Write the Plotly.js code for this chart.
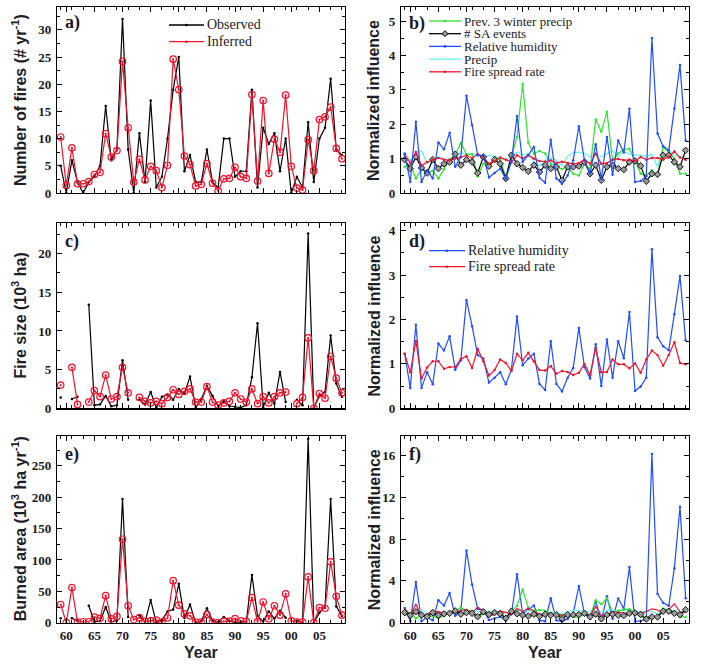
<!DOCTYPE html>
<html><head><meta charset="utf-8">
<script src="https://cdn.plot.ly/plotly-3.0.1.min.js"></script>
<style>body{margin:0;background:#fff}#chart{width:709px;height:666px}</style>
</head><body><div id="chart"></div>
<script>
// Years (two-digit offset from 1900)
const years = [59,60,61,62,63,64,65,66,67,68,69,70,71,72,73,74,75,76,77,78,79,80,81,82,83,84,85,86,87,88,89,90,91,92,93,94,95,96,97,98,99,100,101,102,103,104,105,106,107,108,109];
const xTickVals = [60,65,70,75,80,85,90,95,100,105];
const xTickText = ['60','65','70','75','80','85','90','95','00','05'];

// a) Number of fires
const firesObserved = [5,0,6,2,0,2,3,5,16,6,8,32,8,0,11,2,17,1,3,10,19,25,4,7,2,2,8,2,1,10,10,3,4,4,19,1,12,9,11,4,10,0,3,1,13,2,10,12,21,8,7];
const firesInferred = [10.3,1.4,8.3,1.7,1.7,2.1,3.4,3.8,10.9,6.6,7.8,24.2,12.0,2.0,6.2,2.4,4.9,4.1,1.0,5.1,24.6,19.0,6.8,5.2,1.3,1.6,5.4,1.8,0.4,2.6,2.7,4.7,3.0,2.7,18.1,2.2,17.0,3.6,9.9,7.5,18.0,4.9,0.9,0.55,9.8,4.1,13.5,14.0,15.8,8.2,6.3];

// c) Fire size (10^3 ha)
const sizeObserved = [1.4,null,1.2,1.5,null,13.4,0.4,0.5,1.6,0.25,0.4,6.2,1.1,null,1.1,0.5,2.1,0.1,1.5,1.8,1.1,2.5,1.9,4.1,0.05,1.2,2.9,1.6,0.3,0.9,0.3,0.2,0.1,0.4,4.0,11.0,0.15,2.0,0.6,4.7,0.8,null,1.1,0.4,22.6,0.05,1.6,2.1,9.4,3.2,1.5];
const sizeInferred = [3.0,null,5.3,0.5,null,0.8,2.3,1.5,4.3,1.2,1.5,5.3,2.0,null,1.4,0.9,0.7,0.9,0.6,1.4,2.4,1.8,2.2,2.5,0.8,0.8,2.8,0.8,0.4,0.7,0.9,2.0,1.2,0.8,2.5,0.6,1.5,0.7,1.5,2.0,2.1,null,0.6,1.4,9.1,0.0,1.9,1.3,6.7,3.9,2.0];

// e) Burned area (10^3 ha/yr)
const areaObserved = [7,null,7,3,null,27,1.3,2.5,25,1.5,3,197,9,null,12,1,36,0.1,4.5,18,21,62,7.5,29,0.1,2.4,23,3.2,0.3,9,3,0.6,0.4,1.6,76,11,2,18,6.6,19,8,null,3.3,0.4,293,0.1,16,25,197,26,10.5];
const areaInferred = [29,0,56,1,1.5,1.5,9,7,43,6,10,133,27,5,8,2,3,4,1,7.5,67,28,14,11,1,1,13,1,0.3,2,2.5,6.5,3,2,40,1.5,33,6,27,12,46,3,1,1,73,0,24,23,97,42,12];

// b) Normalized influence on number of fires
const bWinterPrecip = [0.76,0.85,0.42,0.7,0.6,0.65,0.42,0.7,0.97,1.1,1.46,1.13,1.13,0.49,0.85,0.8,1.05,0.95,0.47,1.05,1.63,3.18,1.46,1.15,1.22,1.15,0.85,0.76,0.7,0.76,0.56,0.51,0.85,0.7,2.14,1.78,2.36,0.95,1.15,1.26,1.29,0.95,0.56,0.51,0.66,0.51,1.34,1.19,1.0,0.56,0.56];
const bSAEvents = [0.97,0.71,1.05,0.73,0.58,0.97,0.71,0.85,0.9,1.13,0.81,0.97,0.9,0.58,1.05,0.78,0.97,0.85,0.42,1.1,0.85,0.74,0.63,0.81,0.61,0.81,0.71,0.76,0.37,0.76,0.76,0.78,0.9,0.56,0.81,0.37,0.76,0.81,0.71,0.68,0.9,0.93,0.79,0.34,0.56,0.54,1.1,1.1,0.9,0.76,1.24];
const bHumidity = [1.15,0.32,2.07,0.32,0.66,0.42,1.47,1.27,1.75,0.76,1.05,2.83,1.98,1.1,1.09,0.45,0.58,0.71,0.41,0.92,2.24,0.9,1.1,1.34,0.44,0.3,1.55,0.42,0.27,0.51,0.95,1.94,0.95,0.56,1.42,0.4,1.63,0.53,1.53,1.18,2.45,0.32,0.35,0.49,4.51,1.73,1.36,1.24,2.46,3.72,1.53];
const bPrecip = [1.17,0.95,1.1,1.24,0.85,0.95,1.05,1.0,0.95,1.05,1.19,1.1,1.13,1.1,1.0,1.1,1.05,1.0,0.97,1.05,1.19,1.1,1.15,0.9,0.79,0.95,1.02,0.95,0.8,1.07,1.17,1.19,1.15,1.05,1.15,1.05,1.15,1.24,1.05,1.21,1.13,1.1,1.1,1.05,1.13,0.76,1.34,1.24,1.1,1.05,1.05];
const bSpreadRate = [1.12,0.87,1.19,0.8,0.9,0.97,1.02,0.97,0.95,1.0,1.05,1.09,1.02,1.13,1.05,0.85,0.93,1.03,0.97,0.89,1.1,1.0,1.1,1.0,0.93,0.91,0.95,0.87,0.91,0.87,0.85,0.87,0.97,0.85,1.15,0.85,0.87,0.97,0.99,0.95,0.97,0.93,1.05,0.97,1.02,1.02,0.97,1.05,1.21,1.03,0.97];

// d) Normalized influence on fire size
const dHumidity = [1.23,0.46,1.88,0.46,0.81,0.54,1.46,1.3,1.62,0.87,1.08,2.44,1.85,1.2,1.12,0.58,0.69,0.81,0.54,0.87,2.07,0.97,1.12,1.23,0.55,0.41,1.51,0.55,0.38,0.69,0.91,1.81,0.93,0.67,1.44,0.5,1.55,0.69,1.51,1.13,2.17,0.39,0.49,0.69,3.58,1.6,1.4,1.31,2.12,2.98,1.53];
const dSpreadRate = [1.23,0.81,1.51,0.67,0.92,1.06,1.06,0.89,0.93,0.93,1.11,1.17,0.91,1.34,1.06,0.74,0.86,1.1,1.02,0.84,1.23,1.08,1.25,1.06,0.86,0.85,0.95,0.78,0.84,0.82,0.75,0.8,1.0,0.75,1.36,0.81,0.82,1.1,0.99,0.99,0.9,1.01,0.8,1.1,1.3,1.2,0.96,1.2,1.49,1.02,0.99];

// f) Normalized influence on burned area
const fWinterPrecip = [0.76,0.85,0.42,0.7,0.6,0.65,0.42,0.7,0.97,1.1,1.46,1.13,1.13,0.49,0.85,0.8,1.05,0.95,0.47,1.05,1.63,3.18,1.46,1.15,1.22,1.15,0.85,0.76,0.7,0.76,0.56,0.51,0.85,0.7,2.14,1.78,2.36,0.95,1.15,1.26,1.29,0.95,0.56,0.51,0.66,0.51,1.34,1.19,1.0,0.56,0.56];
const fSAEvents = [0.97,0.71,1.05,0.73,0.58,0.97,0.71,0.85,0.9,1.13,0.81,0.97,0.9,0.58,1.05,0.78,0.97,0.85,0.42,1.1,0.85,0.74,0.63,0.81,0.61,0.81,0.71,0.76,0.37,0.76,0.76,0.78,0.9,0.56,0.81,0.37,0.76,0.81,0.71,0.68,0.9,0.93,0.79,0.34,0.56,0.54,1.1,1.1,0.9,0.76,1.24];
const fHumidity = [1.41,0.15,3.89,0.15,0.53,0.23,2.15,1.65,2.84,0.66,1.13,6.91,3.66,1.32,1.22,0.26,0.4,0.58,0.22,0.8,4.64,0.87,1.23,1.65,0.24,0.12,2.34,0.23,0.1,0.35,0.86,3.51,0.88,0.38,2.04,0.2,2.53,0.37,2.31,1.33,5.32,0.12,0.17,0.34,16.15,2.77,1.9,1.62,5.22,11.09,2.34];
const fPrecip = [1.17,0.95,1.1,1.24,0.85,0.95,1.05,1.0,0.95,1.05,1.19,1.1,1.13,1.1,1.0,1.1,1.05,1.0,0.97,1.05,1.19,1.1,1.15,0.9,0.79,0.95,1.02,0.95,0.8,1.07,1.17,1.19,1.15,1.05,1.15,1.05,1.15,1.24,1.05,1.21,1.13,1.1,1.1,1.05,1.13,0.76,1.34,1.24,1.1,1.05,1.05];
const fSpreadRate = [1.38,0.7,1.8,0.54,0.83,1.03,1.08,0.86,0.88,0.93,1.17,1.28,0.93,1.51,1.11,0.63,0.8,1.13,0.99,0.75,1.35,1.08,1.38,1.06,0.8,0.77,0.9,0.68,0.76,0.71,0.64,0.7,0.97,0.64,1.56,0.69,0.71,1.07,0.98,0.94,0.87,0.94,0.84,1.07,1.33,1.22,0.93,1.26,1.8,1.05,0.96];

const C = {black:'#000000', red:'#f0142d', green:'#2fe22f', blue:'#1f4cff', cyan:'#66f2f2', grey:'#9a9a9a'};
const W = 709, H = 666;
const px = x => x / W, py = y => 1 - y / H;
const SERIF = '"Liberation Serif", "Times New Roman", serif';
const SANS = '"Liberation Sans", Arial, sans-serif';

function obs(y, xa, ya) {
  return {x: years, y: y, xaxis: xa, yaxis: ya, type: 'scatter', mode: 'lines+markers',
    line: {color: C.black, width: 1.2}, marker: {symbol: 'circle', size: 2.5, color: C.black},
    connectgaps: false, showlegend: false, hoverinfo: 'skip'};
}
function inf(y, xa, ya) {
  return {x: years, y: y, xaxis: xa, yaxis: ya, type: 'scatter', mode: 'lines+markers',
    line: {color: C.red, width: 1.2}, marker: {symbol: 'circle-open-dot', size: 6.5, color: C.red, line: {width: 1.2, color: C.red}},
    connectgaps: false, showlegend: false, hoverinfo: 'skip'};
}
function inflLine(y, xa, ya, color, withMarker) {
  return {x: years, y: y, xaxis: xa, yaxis: ya, type: 'scatter', mode: withMarker ? 'lines+markers' : 'lines',
    line: {color: color, width: 1.2}, marker: {symbol: 'circle', size: 2.5, color: color},
    showlegend: false, hoverinfo: 'skip'};
}
function saLine(y, xa, ya) {
  return {x: years, y: y, xaxis: xa, yaxis: ya, type: 'scatter', mode: 'lines+markers',
    line: {color: C.black, width: 1.2}, marker: {symbol: 'diamond', size: 5, color: C.grey, line: {width: 0.9, color: C.black}},
    showlegend: false, hoverinfo: 'skip'};
}

const data = [
  obs(firesObserved, 'x', 'y'), inf(firesInferred, 'x', 'y'),
  inflLine(bPrecip, 'x2', 'y2', C.cyan, false), inflLine(bWinterPrecip, 'x2', 'y2', C.green, true),
  saLine(bSAEvents, 'x2', 'y2'), inflLine(bSpreadRate, 'x2', 'y2', C.red, true), inflLine(bHumidity, 'x2', 'y2', C.blue, true),
  obs(sizeObserved, 'x3', 'y3'), inf(sizeInferred, 'x3', 'y3'),
  inflLine(dHumidity, 'x4', 'y4', C.blue, true), inflLine(dSpreadRate, 'x4', 'y4', C.red, true),
  obs(areaObserved, 'x5', 'y5'), inf(areaInferred, 'x5', 'y5'),
  inflLine(fHumidity, 'x6', 'y6', C.blue, true), inflLine(fPrecip, 'x6', 'y6', C.cyan, false), inflLine(fWinterPrecip, 'x6', 'y6', C.green, true),
  inflLine(fSpreadRate, 'x6', 'y6', C.red, false), saLine(fSAEvents, 'x6', 'y6')
];

const tickFont = {family: SERIF, size: 13, color: '#1a1a26', weight: 'bold'};
const xL = [px(57), px(345)], xR = [px(401), px(688.7)];
const r1 = [py(193), py(7)], r2 = [py(408.3), py(222.7)], r3 = [py(622.7), py(435.7)];

function xax(dom, anchor, labels) {
  return {domain: dom, anchor: anchor, range: [58.35, 109.55], tickmode: 'array', tickvals: xTickVals, ticktext: xTickText,
    ticks: 'inside', ticklen: 5, tickwidth: 1, tickcolor: '#000', mirror: 'allticks', showline: true, linecolor: '#000', linewidth: 1.2,
    showticklabels: labels, showgrid: false, zeroline: false, tickfont: tickFont,
    minor: {dtick: 2, tick0: 59, ticks: 'inside', ticklen: 3, tickwidth: 1, tickcolor: '#000', showgrid: false}};
}
function yax(dom, anchor, range, dtick, minor) {
  return {domain: dom, anchor: anchor, range: range, tick0: 0, dtick: dtick,
    ticks: 'inside', ticklen: 5, tickwidth: 1, tickcolor: '#000', mirror: 'allticks', showline: true, linecolor: '#000', linewidth: 1.2,
    showgrid: false, zeroline: false, tickfont: tickFont, ticklabelstandoff: 2,
    minor: {dtick: minor, tick0: 0, ticks: 'inside', ticklen: 3, tickwidth: 1, tickcolor: '#000', showgrid: false}};
}

const titleFont = {family: SANS, size: 16, color: '#1e1e28', weight: 'bold'};
const legFont14 = {family: SERIF, size: 14, color: '#1a1a26'};
const legFont13 = {family: SERIF, size: 13, color: '#1a1a26'};
const letterFont = {family: SERIF, size: 18, color: '#1a1a2a', weight: 'bold'};

const annotations = [];
function ann(text, x, y, font, opts) {
  annotations.push(Object.assign({text: text, x: px(x), y: py(y), xref: 'paper', yref: 'paper', showarrow: false, font: font, xanchor: 'left', yanchor: 'middle', borderpad: 0}, opts || {}));
}
// panel letters
ann('a)', 64, 23, letterFont); ann('b)', 408, 24, letterFont);
ann('c)', 64, 241, letterFont); ann('d)', 408, 241, letterFont);
ann('e)', 64, 454, letterFont); ann('f)', 408, 454, letterFont);
// axis titles
const yTitles = ['Number of fires (# yr<sup>-1</sup>)', 'Fire size (10<sup>3</sup> ha)', 'Burned area (10<sup>3</sup> ha yr<sup>-1</sup>)'];
const rowsC = [100, 315.5, 529.2];
yTitles.forEach((t, i) => ann(t, 19, rowsC[i], titleFont, {textangle: -90, xanchor: 'center'}));
rowsC.forEach(c => ann('Normalized influence', 374, c, titleFont, {textangle: -90, xanchor: 'center'}));
ann('Year', 201, 652, titleFont, {xanchor: 'center'});
ann('Year', 545, 652, titleFont, {xanchor: 'center'});

// legends
const shapes = [];
function legItem(x0, x1, y, color, label, font, marker) {
  shapes.push({type: 'line', xref: 'paper', yref: 'paper', x0: px(x0), x1: px(x1), y0: py(y), y1: py(y), line: {color: color, width: 1.3}});
  const cx = (x0 + x1) / 2;
  if (marker === 'dot') {
    shapes.push({type: 'circle', xref: 'paper', yref: 'paper', x0: px(cx - 1.3), x1: px(cx + 1.3), y0: py(y + 1.3), y1: py(y - 1.3), fillcolor: color, line: {color: color, width: 0}});
  } else if (marker === 'diamond') {
    const d = 3;
    shapes.push({type: 'path', xref: 'paper', yref: 'paper', path: `M ${px(cx)},${py(y - d)} L ${px(cx + d)},${py(y)} L ${px(cx)},${py(y + d)} L ${px(cx - d)},${py(y)} Z`, fillcolor: C.grey, line: {color: C.black, width: 1}});
  }
  ann(label, x1 + 2, y, font);
}
legItem(169, 204, 25, C.black, 'Observed', legFont14, 'dot');
legItem(169, 204, 41.7, C.red, 'Inferred', legFont14, 'dot');
const bLegend = [['Prev. 3 winter precip', C.green, 'dot'], ['# SA events', C.black, 'diamond'], ['Relative humidity', C.blue, 'dot'], ['Precip', C.cyan, 'none'], ['Fire spread rate', C.red, 'dot']];
bLegend.forEach((it, i) => legItem(429, 461, 21 + i * 12.7, it[1], it[0], legFont13, it[2]));
legItem(429, 465, 250.7, C.blue, 'Relative humidity', legFont14, 'dot');
legItem(429, 465, 266.7, C.red, 'Fire spread rate', legFont14, 'dot');

const layout = {
  width: W, height: H, margin: {l: 0, r: 0, t: 0, b: 0}, paper_bgcolor: '#fff', plot_bgcolor: '#fff', showlegend: false,
  xaxis: xax(xL, 'y', false), yaxis: yax(r1, 'x', [0, 34.2], 5, 2.5),
  xaxis2: xax(xR, 'y2', false), yaxis2: yax(r1, 'x2', [0, 5.41], 1, 0.5),
  xaxis3: xax(xL, 'y3', false), yaxis3: yax(r2, 'x3', [0, 24], 5, 2.5),
  xaxis4: xax(xR, 'y4', false), yaxis4: yax(r2, 'x4', [0, 4.18], 1, 0.5),
  xaxis5: xax(xL, 'y5', true), yaxis5: yax(r3, 'x5', [0, 298], 50, 25),
  xaxis6: xax(xR, 'y6', true), yaxis6: yax(r3, 'x6', [0, 17.9], 4, 2),
  annotations: annotations, shapes: shapes
};
Plotly.newPlot('chart', data, layout, {staticPlot: true, displayModeBar: false});
</script></body></html>
